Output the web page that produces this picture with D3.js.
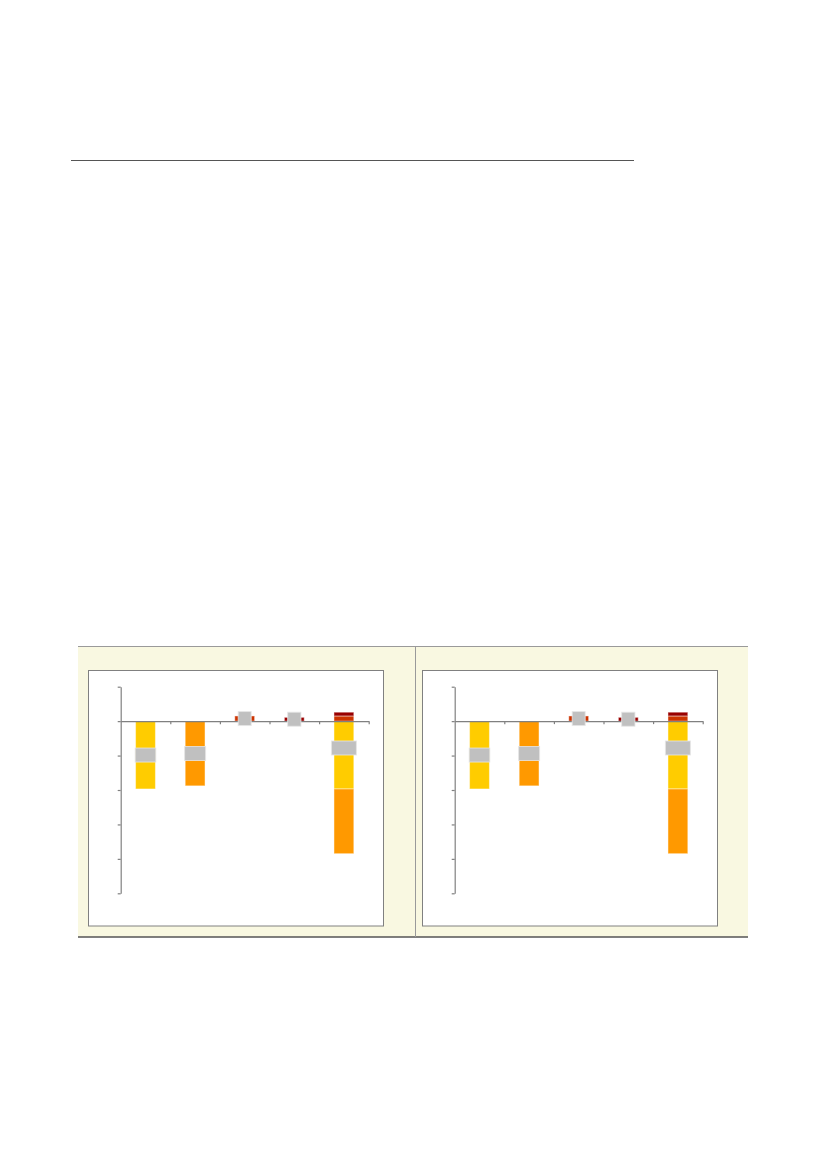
<!DOCTYPE html>
<html>
<head>
<meta charset="utf-8">
<script src="https://cdn.jsdelivr.net/npm/d3@7"></script>
<style>
  body { margin: 0; background: #fff; }
  svg { display: block; }
</style>
</head>
<body>
<div id="chart"></div>
<script>
'use strict';

// Data (units = one y tick step)
var categories = ['c1', 'c2', 'c3', 'c4', 'c5'];
var seriesKeys = ['yellow', 'orange', 'red', 'darkred'];
var yellowVals  = [-1.97, 0, 0, 0, -1.97];
var orangeVals  = [0, -1.88, 0, 0, -1.88];
var redVals     = [0, 0, 0.15, 0, 0.15];
var darkredVals = [0, 0, 0, 0.11, 0.11];
var labelVals   = [-0.985, -0.94, 0.075, 0.055, -0.78];
var yTicks      = [1, 0, -1, -2, -3, -4, -5];

var colors = { yellow: '#FFCC00', orange: '#FF9900', red: '#CC3300', darkred: '#990000' };
var labelW = [20.6, 21, 13, 13.3, 25];

var rows = categories.map(function(c, i) {
	return { cat: c, yellow: yellowVals[i], orange: orangeVals[i], red: redVals[i], darkred: darkredVals[i] };
});

var stacked = d3.stack()
	.keys(seriesKeys)
	.offset(d3.stackOffsetDiverging)(rows);

var svg = d3.select('#chart').append('svg')
	.attr('width', 827)
	.attr('height', 1169);

// header rule
svg.append('line')
	.attr('x1', 71).attr('x2', 634)
	.attr('y1', 160.5).attr('y2', 160.5)
	.attr('stroke', '#555').attr('stroke-width', 1.2);

// beige panel
svg.append('rect')
	.attr('x', 78).attr('y', 646)
	.attr('width', 670).attr('height', 291)
	.attr('fill', '#F9F8E1');
svg.append('line')
	.attr('x1', 78).attr('x2', 748).attr('y1', 646.5).attr('y2', 646.5)
	.attr('stroke', '#9a9a9a');
svg.append('line')
	.attr('x1', 78).attr('x2', 748).attr('y1', 937).attr('y2', 937)
	.attr('stroke', '#555').attr('stroke-width', 1.3);
svg.append('line')
	.attr('x1', 415.5).attr('x2', 415.5).attr('y1', 646).attr('y2', 937)
	.attr('stroke', '#9a9a9a');

function drawChart(dx) {

	var g = svg.append('g').attr('transform', 'translate(' + dx + ',0)');

	g.append('rect')
		.attr('x', 88.5).attr('y', 670.5)
		.attr('width', 295).attr('height', 255.5)
		.attr('fill', '#fff')
		.attr('stroke', '#808080');

	var y = d3.scaleLinear().domain([1, -5]).range([686.7, 893.3]);
	var x = d3.scaleBand().domain(categories)
		.range([120.7, 368.7])
		.paddingInner(0.6).paddingOuter(0.3);
	var xl = d3.scaleLinear().domain([0, categories.length]).range([120.7, 368.7]);

	// bars
	g.selectAll('g.series')
		.data(stacked)
		.enter().append('g')
		.attr('class', 'series')
		.attr('fill', function(d) { return colors[d.key]; })
		.selectAll('rect')
		.data(function(d) { return d.filter(function(p) { return p[1] - p[0] !== 0; }); })
		.enter().append('rect')
		.attr('x', function(d) { return x(d.data.cat); })
		.attr('width', x.bandwidth())
		.attr('y', function(d) { return y(Math.max(d[0], d[1])); })
		.attr('height', function(d) { return Math.abs(y(d[0]) - y(d[1])); })
		.attr('stroke', 'rgba(255,255,255,0.45)')
		.attr('stroke-width', 1);

	// axes
	var yAxis = g.append('g')
		.attr('transform', 'translate(120.7,0)')
		.call(d3.axisLeft(y).tickValues(yTicks).tickSize(3).tickSizeOuter(0).tickFormat(''));

	var xAxis = g.append('g')
		.attr('transform', 'translate(0,' + y(0) + ')')
		.call(d3.axisBottom(xl).tickValues(d3.range(1, categories.length + 1)).tickSize(3).tickSizeOuter(0).tickFormat(''));

	[yAxis, xAxis].forEach(function(a) {
		a.selectAll('path, line').attr('stroke', '#808080').attr('stroke-width', 1.2);
	});

	// data label boxes (empty)
	g.selectAll('rect.lbl')
		.data(labelVals)
		.enter().append('rect')
		.attr('class', 'lbl')
		.attr('x', function(d, i) { return x(categories[i]) + x.bandwidth() / 2 - labelW[i] / 2; })
		.attr('y', function(d) { return y(d) - 7; })
		.attr('width', function(d, i) { return labelW[i]; })
		.attr('height', 14)
		.attr('fill', '#C0C0C0')
		.attr('stroke', 'rgba(230,230,230,0.8)')
		.attr('stroke-width', 1);
}

drawChart(0);
drawChart(334);
</script>
</body>
</html>
